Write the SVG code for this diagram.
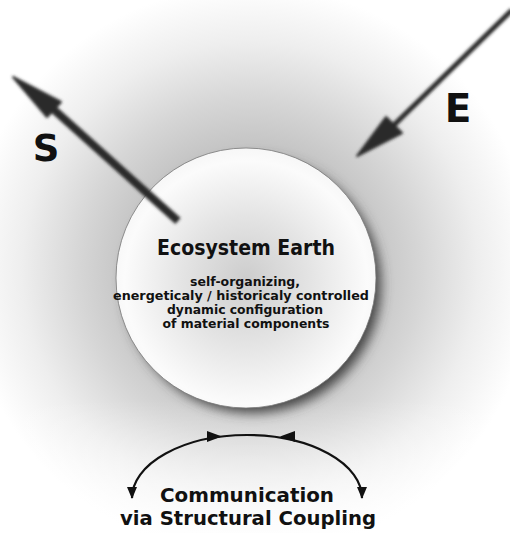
<svg xmlns="http://www.w3.org/2000/svg" width="510" height="533" viewBox="0 0 510 533">
<defs>
<radialGradient id="bg" gradientUnits="userSpaceOnUse" cx="250" cy="270" r="285">
<stop offset="0" stop-color="#b8b8b8"/>
<stop offset="0.45" stop-color="#c6c6c6"/>
<stop offset="0.6" stop-color="#d6d6d6"/>
<stop offset="0.8" stop-color="#eeeeee"/>
<stop offset="1" stop-color="#ffffff"/>
</radialGradient>
<linearGradient id="bot" x1="0" y1="0" x2="0" y2="1">
<stop offset="0" stop-color="#ffffff" stop-opacity="0"/>
<stop offset="1" stop-color="#ffffff" stop-opacity="0.8"/>
</linearGradient>
<radialGradient id="ball" cx="0.5" cy="0.52" r="0.55" fx="0.5" fy="0.5">
<stop offset="0" stop-color="#cdcdcd"/>
<stop offset="0.45" stop-color="#e4e4e4"/>
<stop offset="0.85" stop-color="#fbfbfb"/>
<stop offset="1" stop-color="#f4f4f4"/>
</radialGradient>
<filter id="blur" x="-20%" y="-20%" width="140%" height="140%"><feGaussianBlur stdDeviation="1.6"/></filter>
<filter id="shadow" x="-30%" y="-30%" width="160%" height="160%"><feGaussianBlur stdDeviation="6"/></filter>
<marker id="ah" viewBox="0 0 12 10" refX="11" refY="5" markerWidth="12" markerHeight="10" markerUnits="userSpaceOnUse" orient="auto-start-reverse">
<path d="M0,0 L12,5 L0,10 Z" fill="#111"/>
</marker>
<style>
.t{font-family:"DejaVu Sans","Liberation Sans",sans-serif;font-weight:bold;fill:#111;text-anchor:middle}
.s{font-size:13px}
.b{font-size:20px}
</style>
</defs>
<rect width="510" height="533" fill="url(#bg)"/>
<rect x="0" y="400" width="510" height="133" fill="url(#bot)"/>
<g id="earth">
<circle cx="253" cy="285" r="128" fill="#444" filter="url(#shadow)"/>
<circle cx="246" cy="278" r="130" fill="url(#ball)" stroke="#777" stroke-width="0.8"/>
<text class="t" x="246" y="255" font-size="22" textLength="178" lengthAdjust="spacingAndGlyphs">Ecosystem Earth</text>
<text class="t s" x="245" y="286" textLength="110" lengthAdjust="spacingAndGlyphs">self-organizing,</text>
<text class="t s" x="241" y="300" textLength="256" lengthAdjust="spacingAndGlyphs">energeticaly / historicaly controlled</text>
<text class="t s" x="245" y="314" textLength="156" lengthAdjust="spacingAndGlyphs">dynamic configuration</text>
<text class="t s" x="246" y="328" textLength="167" lengthAdjust="spacingAndGlyphs">of material components</text>
</g>
<g id="connectors">
<g filter="url(#blur)" fill="#2a2a2a" stroke="#2a2a2a">
<line x1="178" y1="221" x2="52" y2="108" stroke-width="8"/>
<polygon points="13,77 47,117 61,102" stroke-width="2" stroke-linejoin="round"/>
<line x1="512" y1="10" x2="394" y2="125" stroke-width="5"/>
<polygon points="357,156 386,117 402,133" stroke-width="2" stroke-linejoin="round"/>
</g>
<path d="M132,498 A115,63 0 0 1 362,498" fill="none" stroke="#111" stroke-width="2.2" marker-start="url(#ah)" marker-end="url(#ah)"/>
<polygon points="222,436.5 207,431 207,442" fill="#111"/>
<polygon points="280,436.5 295,431 295,442" fill="#111"/>
</g>
<g id="labels">
<text class="t" x="46" y="161" font-size="37">S</text>
<text class="t" x="458" y="122" font-size="39">E</text>
<text class="t b" x="247" y="502" textLength="174" lengthAdjust="spacingAndGlyphs">Communication</text>
<text class="t b" x="248" y="525" textLength="256" lengthAdjust="spacingAndGlyphs">via Structural Coupling</text>
</g>
</svg>
